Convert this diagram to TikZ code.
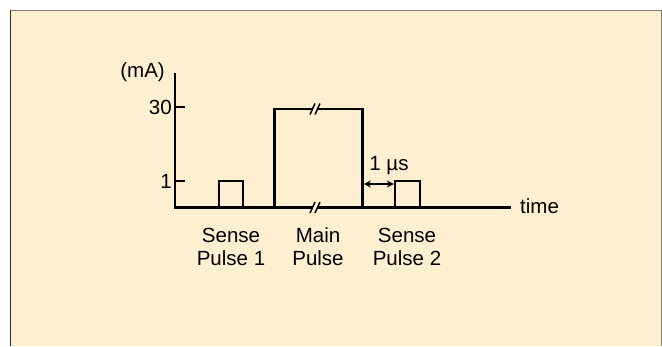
\documentclass[tikz,border=0pt]{standalone}
\usepackage{fontspec}
\setmainfont{Liberation Sans}
\usepackage{tikz}
\usetikzlibrary{arrows.meta, positioning}
\definecolor{panelbg}{RGB}{254,239,209}
\definecolor{edgegray}{RGB}{125,125,115}
\definecolor{edgedark}{RGB}{45,45,45}
\tikzstyle{wave} = [line width=2.4pt, line join=miter, line cap=rect]
\tikzstyle{gaparrow} = [line width=1.4pt, <->, >={Stealth[length=7pt,width=7pt]}]

\begin{document}
\begin{tikzpicture}[x=1pt, y=-1pt,
    lbl/.style={font=\fontsize{20.5}{23}\selectfont, inner sep=0pt, align=center},
    brk/.style={line width=1.5pt}]
    \useasboundingbox (0,0) rectangle (662,346);
    % panel
    \fill[panelbg] (10,10) rectangle (661,346);
    \draw[edgegray, line width=1pt] (10,10) -- (661,10) -- (661,346);
    \draw[edgedark, line width=1pt] (10,10) -- (10,346);
    % axes
    \coordinate (o) at (175,207.5);
    \coordinate (ytop) at (175,73);
    \coordinate (xend) at (511,207.5);
    \draw[wave, line cap=butt] (ytop) -- (o) -- (312.5,207.5);
    \draw[wave, line cap=butt] (317.5,207.5) -- (xend);
    \draw[wave, line cap=butt] (175,107) -- (185,107);
    \draw[wave, line cap=butt] (175,181) -- (185,181);
    % pulses
    \draw[wave] (219,207.5) -- (219,181) -- (243,181) -- (243,207.5);
    \draw[wave, line cap=butt] (274.5,207.5) -- (274.5,109) -- (312.5,109);
    \draw[wave, line cap=butt] (317.5,109) -- (362.5,109) -- (362.5,207.5);
    \draw[wave] (395,207.5) -- (395,181) -- (420,181) -- (420,207.5);
    % break marks
    \foreach \y in {109,207.5} {
        \draw[brk] (310,\y+5.5) -- (315,\y-5.5);
        \draw[brk] (315,\y+5.5) -- (320,\y-5.5);
    }
    % gap arrow
    \coordinate (mfall) at (363.8,184);
    \coordinate (srise) at (393.8,184);
    \draw[gaparrow] (mfall) -- (srise);
    % labels
    \node[lbl, anchor=base east] (unit) at (165,77) {(mA)};
    \node[lbl, anchor=base east] (v30) at (172,114) {30};
    \node[lbl, anchor=base east] (v1) at (172,188) {1};
    \node[lbl, anchor=base west] (tlbl) at (520,213) {time};
    \node[lbl, anchor=base] (gap) at (389,170) {1 µs};
    \node[lbl, anchor=base] (sp1) at (231,265) {Sense\\Pulse 1};
    \node[lbl, anchor=base] (mp) at (318,265) {Main\\Pulse};
    \node[lbl, anchor=base] (sp2) at (407,265) {Sense\\Pulse 2};
\end{tikzpicture}
\end{document}
